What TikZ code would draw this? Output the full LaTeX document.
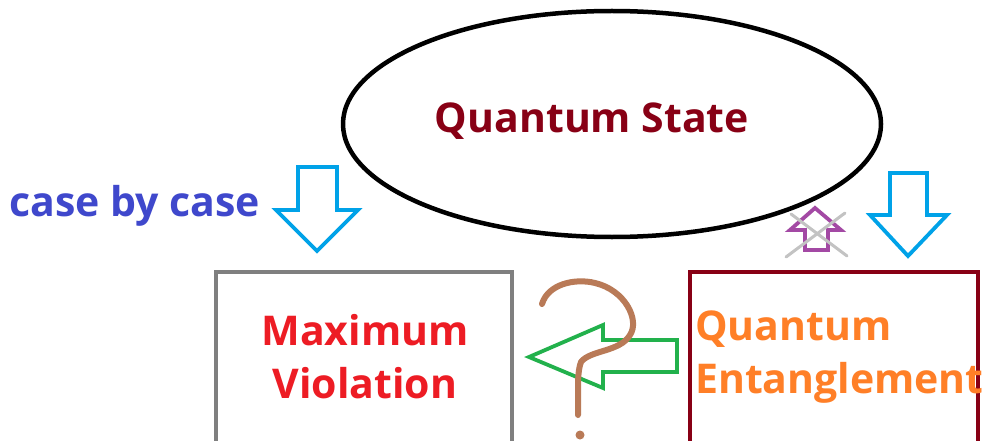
\documentclass[tikz,border=0pt]{standalone}
\usepackage{fontspec}
\setmainfont{Open Sans}
\definecolor{qsred}{RGB}{136,0,21}
\definecolor{mvred}{RGB}{237,28,36}
\definecolor{qeorange}{RGB}{255,127,39}
\definecolor{cbblue}{RGB}{63,72,204}
\definecolor{arrblue}{RGB}{0,162,232}
\definecolor{arrgreen}{RGB}{34,177,76}
\definecolor{arrpurple}{RGB}{163,73,164}
\definecolor{crossgray}{RGB}{195,195,195}
\definecolor{qbrown}{RGB}{185,122,87}
\definecolor{boxgray}{RGB}{127,127,127}
\tikzset{
  lbl/.style={font=\bfseries\fontsize{41}{53}\selectfont, inner sep=0pt},
  fatarrow/.style={line width=3.8pt, line join=miter},
}
\begin{document}
\begin{tikzpicture}[x=1pt,y=-1pt]
\useasboundingbox[fill=white] (0,0) rectangle (982,441);
% ellipse
\draw[line width=4.5pt] (612,124) ellipse [x radius=269, y radius=113];
\node[lbl, text=qsred] (qs) at (592,121) {Quantum State};
% boxes
\draw[line width=4pt, boxgray] (216,272) rectangle (512,445);
\draw[line width=4pt, qsred] (690,272) rectangle (978,445);
\node[lbl, text=mvred, align=center] (mv) at (365,357) {Maximum\\Violation};
\node[lbl, text=qeorange, align=left, anchor=west] (qe) at (695,357) {Quantum\\Entanglement};
\node[lbl, text=cbblue, anchor=west] (cb) at (9,206) {case by case};
% blue arrows
\draw[fatarrow, arrblue] (298,167) -- (337,167) -- (337,210) -- (358,210) -- (317,251) -- (276,210) -- (298,210) -- cycle;
\draw[fatarrow, arrblue] (890,173) -- (927,173) -- (927,215) -- (947,215) -- (908,256) -- (870,215) -- (890,215) -- cycle;
% purple arrow with cross
\draw[fatarrow, arrpurple] (815,208) -- (841,230) -- (828,230) -- (828,250) -- (805,250) -- (805,230) -- (790,230) -- cycle;
\draw[line width=3pt, crossgray, line cap=round] (791,214) -- (847,256);
\draw[line width=3pt, crossgray, line cap=round] (845,213) -- (786,257);
% green arrow
\draw[fatarrow, arrgreen] (529,357) -- (603,325) -- (603,340) -- (677,340) -- (677,372) -- (603,372) -- (603,388) -- cycle;
% question mark
\draw[line width=6pt, qbrown, line cap=round] (542,304) .. controls (548,284) and (575,278) .. (595,283) .. controls (625,290) and (640,320) .. (630,335) .. controls (620,352) and (590,350) .. (581,362) .. controls (576,375) and (579,400) .. (578,415);
\fill[qbrown] (580,435) circle (4.5);
\end{tikzpicture}
\end{document}
